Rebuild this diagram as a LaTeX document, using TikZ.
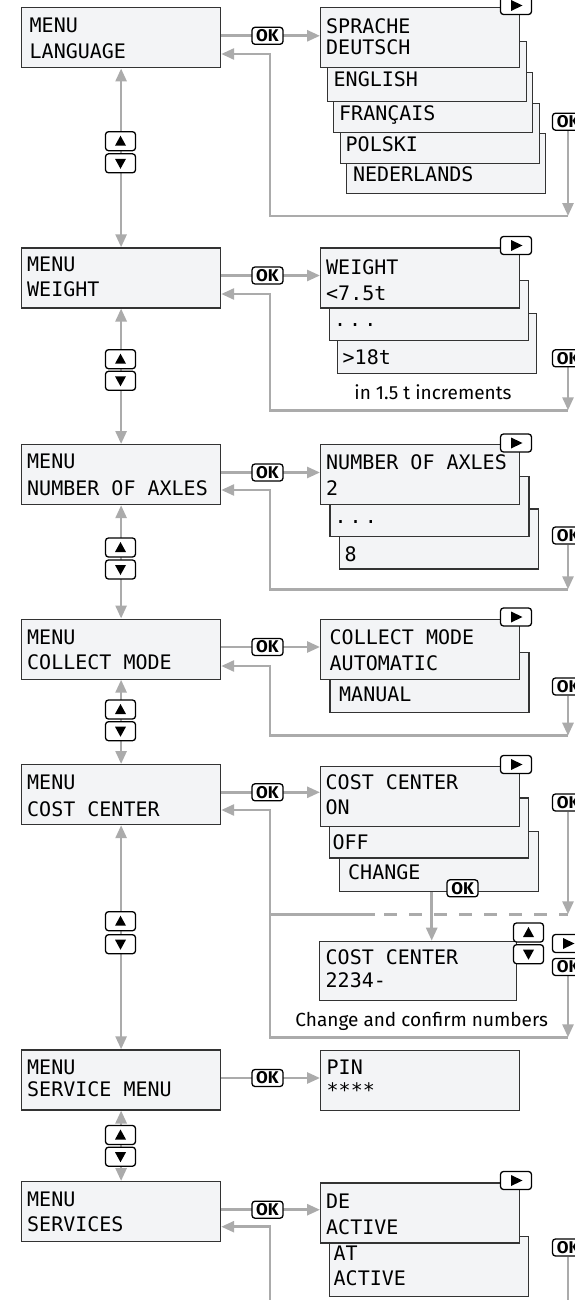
\documentclass[tikz,border=0pt]{standalone}
\usepackage{fontspec}
\usetikzlibrary{arrows.meta}
\newfontfamily\lcdfont{DejaVu Sans Mono}
\newfontfamily\notefont{Fira Sans}
\definecolor{lcdfill}{HTML}{F3F4F6}
\definecolor{flowgray}{HTML}{ABABAB}
\definecolor{edgegray}{HTML}{333333}
\pgfdeclarelayer{bg}
\pgfsetlayers{bg,main}
\newcommand\upmark[1]{\fill ([shift={(-5.5,4.5)}]#1.center) -- ++(11,0) -- ++(-5.5,-10) -- cycle;}
\newcommand\downmark[1]{\fill ([shift={(-5.5,-4.5)}]#1.center) -- ++(11,0) -- ++(-5.5,10) -- cycle;}
\newcommand\playmark[1]{\fill ([shift={(-5,-5.5)}]#1.center) -- ++(11.5,5.5) -- ++(-11.5,5.5) -- cycle;}
\tikzset{
  lcd/.style={draw=edgegray, fill=lcdfill, line width=1.2pt, minimum width=199pt, minimum height=60pt, inner sep=0pt, anchor=north west},
  lcdtext/.style={font=\lcdfont\fontsize{20}{20}\selectfont, anchor=west, inner sep=0pt, text height=14.6pt, text depth=0pt},
  flow/.style={draw=flowgray, line width=2.7pt},
  arrowend/.style={-{Triangle[length=13pt,width=11pt]}},
  botharrows/.style={{Triangle[length=13pt,width=11pt]}-{Triangle[length=13pt,width=11pt]}},
  okbadge/.style={draw=black, fill=white, line width=1.3pt, rounded corners=3pt, minimum width=31pt, minimum height=17pt, inner sep=0pt, font=\notefont\bfseries\fontsize{17}{17}\selectfont},
  keybadge/.style={draw=black, fill=white, line width=1.3pt, rounded corners=3pt, minimum width=30pt, minimum height=19pt, inner sep=0pt},
  playbadge/.style={keybadge, minimum height=18pt, minimum width=31pt},
  notetext/.style={font=\notefont\fontsize{19}{19}\selectfont, inner sep=0pt}
}
\begin{document}
\begin{tikzpicture}[x=1pt,y=-1pt]
\useasboundingbox (0,0) rectangle (574,1300);

% ---------- Section 1: LANGUAGE ----------
\node[lcd] (l5) at (346,133.3) {};
\node[lcdtext] (l5t) at (352.8,174.2) {NEDERLANDS};
\node[lcd] (l4) at (339.7,102.7) {};
\node[lcdtext] (l4t) at (345.5,144) {POLSKI};
\node[lcd] (l3) at (333,71.7) {};
\node[lcdtext] (l3t) at (339,113.3) {FRANÇAIS};
\node[lcd] (l2) at (327,40.7) {};
\node[lcdtext] (l2t) at (333.5,79.7) {ENGLISH};
\node[lcd] (s1) at (320,7.3) {};
\node[lcdtext] (s1a) at (326,25.8) {SPRACHE};
\node[lcdtext] (s1b) at (326,47.5) {DEUTSCH};
\node[lcd] (m1) at (21,7.3) {};
\node[lcdtext] (m1a) at (29.5,25) {MENU};
\node[lcdtext] (m1b) at (29.5,51.7) {LANGUAGE};

% ---------- Section 2: WEIGHT ----------
\node[lcd] (w3) at (336.8,312.7) {};
\node[lcdtext] (w3t) at (342.5,357) {>18t};
\node[lcd] (w2) at (328.7,280) {};
\node[lcdtext] (w2t) at (334,319.4) {.\kern3pt.\kern3pt.};
\node[lcd] (s2) at (320,247.3) {};
\node[lcdtext] (s2a) at (326,267) {WEIGHT};
\node[lcdtext] (s2b) at (326,293) {<7.5t};
\node[lcd] (m2) at (21,247.3) {};
\node[lcdtext] (m2a) at (27,264.5) {MENU};
\node[lcdtext] (m2b) at (27,288.8) {WEIGHT};
\node[notetext] (n2) at (433,392.7) {in 1.5 t increments};

% ---------- Section 3: AXLES ----------
\node[lcd] (a3) at (338.6,508.3) {};
\node[lcdtext] (a3t) at (344.5,554) {8};
\node[lcd] (a2) at (329.4,476) {};
\node[lcdtext] (a2t) at (334.5,516) {.\kern3pt.\kern3pt.};
\node[lcd] (s3) at (320,444) {};
\node[lcdtext] (s3a) at (326,462.5) {NUMBER OF AXLES};
\node[lcdtext] (s3b) at (326,488.3) {2};
\node[lcd] (m3) at (21,444) {};
\node[lcdtext] (m3a) at (27,461) {MENU};
\node[lcdtext] (m3b) at (27,488.3) {NUMBER OF AXLES};

% ---------- Section 4: COLLECT MODE ----------
\node[lcd] (c2) at (329.4,651.7) {};
\node[lcdtext] (c2t) at (339,694.2) {MANUAL};
\node[lcd] (s4) at (320,618.5) {};
\node[lcdtext] (s4a) at (329.5,637) {COLLECT MODE};
\node[lcdtext] (s4b) at (329.5,663.3) {AUTOMATIC};
\node[lcd] (m4) at (21,618.5) {};
\node[lcdtext] (m4a) at (27,636.7) {MENU};
\node[lcdtext] (m4b) at (27,662.5) {COLLECT MODE};

% ---------- Section 5: COST CENTER ----------
\node[lcd] (k3) at (338.6,830.7) {};
\node[lcdtext] (k3t) at (348,872.5) {CHANGE};
\node[lcd] (k2) at (329,797.3) {};
\node[lcdtext] (k2t) at (332.3,841.7) {OFF};
\node[lcd] (s5) at (320,766) {};
\node[lcdtext] (s5a) at (325.5,782.5) {COST CENTER};
\node[lcdtext] (s5b) at (325.5,807.5) {ON};
\node[lcd] (m5) at (21,764) {};
\node[lcdtext] (m5a) at (27,782) {MENU};
\node[lcdtext] (m5b) at (27,809) {COST CENTER};
\node[lcd, minimum width=197pt, minimum height=59.3pt] (cc) at (318.5,940.7) {};
\node[lcdtext] (cca) at (325.5,956.7) {COST CENTER};
\node[lcdtext] (ccb) at (325.5,980) {2234-};
\node[notetext] (n5) at (421.7,1021) {Change and confirm numbers};

% ---------- Section 6: SERVICE MENU ----------
\node[lcd] (m6) at (21,1049.3) {};
\node[lcdtext] (m6a) at (27,1067.5) {MENU};
\node[lcdtext] (m6b) at (27,1089) {SERVICE MENU};
\node[lcd] (pin) at (320,1050) {};
\node[lcdtext] (pina) at (326.5,1067.5) {PIN};
\node[lcdtext] (pinb) at (326.5,1090) {****};

% ---------- Section 7: SERVICES ----------
\node[lcd] (t2) at (329,1236) {};
\node[lcdtext] (t2a) at (333.5,1253.3) {AT};
\node[lcdtext] (t2b) at (333.5,1278.3) {ACTIVE};
\node[lcd] (s7) at (320,1182.3) {};
\node[lcdtext] (s7a) at (326,1200.8) {DE};
\node[lcdtext] (s7b) at (326,1226.7) {ACTIVE};
\node[lcd] (m7) at (21,1181) {};
\node[lcdtext] (m7a) at (27,1199) {MENU};
\node[lcdtext] (m7b) at (27,1224) {SERVICES};

% ---------- OK badges on the forward arrows ----------
\node[okbadge] (ok1) at (267.5,35.8) {OK};
\node[okbadge] (ok2) at (267.5,275.5) {OK};
\node[okbadge] (ok3) at (267.5,472.5) {OK};
\node[okbadge] (ok4) at (267.5,647) {OK};
\node[okbadge] (ok5) at (267.5,792.3) {OK};
\node[okbadge] (ok6) at (267.5,1078) {OK};
\node[okbadge] (ok7) at (267.5,1209.7) {OK};

% ---------- OK badges on the right ----------
\node[okbadge] (rk1) at (568,121.7) {OK};
\node[okbadge] (rk2) at (568,358.3) {OK};
\node[okbadge] (rk3) at (568,535.5) {OK};
\node[okbadge] (rk4) at (568,686.5) {OK};
\node[okbadge] (rk5) at (568,802.5) {OK};
\node[okbadge] (rk5b) at (568,967) {OK};
\node[okbadge] (rk7) at (568,1247.5) {OK};
\node[okbadge] (kok) at (462.5,888.3) {OK};

% ---------- play badges ----------
\node[playbadge] (p1) at (516,5.5) {};
\node[playbadge] (p2) at (516,245.5) {};
\node[playbadge] (p3) at (516,443) {};
\node[playbadge] (p4) at (516,617) {};
\node[playbadge] (p5) at (516,764.5) {};
\node[playbadge] (p7) at (516,1180.5) {};
\node[playbadge] (pcc) at (568,943.5) {};
\playmark{p1}\playmark{p2}\playmark{p3}\playmark{p4}\playmark{p5}\playmark{p7}\playmark{pcc}

% ---------- up/down badges ----------
\node[keybadge] (u1) at (120.5,141.2) {};
\node[keybadge] (d1) at (120.5,163.3) {};
\node[keybadge] (u2) at (120.5,359.2) {};
\node[keybadge] (d2) at (120.5,380.8) {};
\node[keybadge] (u3) at (120.5,547.5) {};
\node[keybadge] (d3) at (120.5,569.5) {};
\node[keybadge] (u4) at (120.5,709.5) {};
\node[keybadge] (d4) at (120.5,731.2) {};
\node[keybadge] (u5) at (120.5,921.2) {};
\node[keybadge] (d5) at (120.5,944.2) {};
\node[keybadge] (u6) at (120.5,1135) {};
\node[keybadge] (d6) at (120.5,1156.7) {};
\node[keybadge] (ucc) at (528.5,932.5) {};
\node[keybadge] (dcc) at (528.5,954.2) {};
\upmark{u1}\downmark{d1}\upmark{u2}\downmark{d2}\upmark{u3}\downmark{d3}
\upmark{u4}\downmark{d4}\upmark{u5}\downmark{d5}\upmark{u6}\downmark{d6}
\upmark{ucc}\downmark{dcc}

% ---------- helper coordinates ----------
\coordinate (rc1) at (568,216);
\coordinate (rc2) at (568,410.3);
\coordinate (rc3) at (568,589.3);
\coordinate (rc4) at (568,735.7);
\coordinate (rc5) at (568,1037.3);
\coordinate (rv1) at (270,54);
\coordinate (rv2) at (270,294);
\coordinate (rv3) at (270,490);
\coordinate (rv4) at (270,666);
\coordinate (rv5) at (270,810);
\coordinate (rv7) at (270,1226.7);
\coordinate (rb7) at (270,1310);
\coordinate (rr7) at (568,1310);
\coordinate (dr) at (568,914.3);
\coordinate (dl) at (270,914.3);
\coordinate (ds) at (375,914.3);
\coordinate (dd) at (384,914.3);
\coordinate (kx) at (431.7,900);

\begin{pgfonlayer}{bg}
% vertical menu navigation
\draw[flow,botharrows] (m1.south) -- (m2.north);
\draw[flow,botharrows] (m2.south) -- (m3.north);
\draw[flow,botharrows] (m3.south) -- (m4.north);
\draw[flow,botharrows] (m4.south) -- (m5.north);
\draw[flow,botharrows] (m5.south) -- (m6.north);
\draw[flow,botharrows] (m6.south) -- (m7.north);
% OK forward arrows
\draw[flow,arrowend] (m1.east |- ok1) -- (s1.west |- ok1);
\draw[flow,arrowend] (m2.east |- ok2) -- (s2.west |- ok2);
\draw[flow,arrowend] (m3.east |- ok3) -- (s3.west |- ok3);
\draw[flow,arrowend] (m4.east |- ok4) -- (s4.west |- ok4);
\draw[flow,arrowend] (m5.east |- ok5) -- (s5.west |- ok5);
\draw[flow,arrowend] (m6.east |- ok6) -- (pin.west |- ok6);
\draw[flow,arrowend] (m7.east |- ok7) -- (s7.west |- ok7);
% return loops
\draw[flow,arrowend] (rk1) -- (rc1);
\draw[flow,arrowend] (rc1) -- (rc1 -| rv1) -- (rv1) -- (rv1 -| m1.east);
\draw[flow,arrowend] (rk2) -- (rc2);
\draw[flow,arrowend] (rc2) -- (rc2 -| rv2) -- (rv2) -- (rv2 -| m2.east);
\draw[flow,arrowend] (rk3) -- (rc3);
\draw[flow,arrowend] (rc3) -- (rc3 -| rv3) -- (rv3) -- (rv3 -| m3.east);
\draw[flow,arrowend] (rk4) -- (rc4);
\draw[flow,arrowend] (rc4) -- (rc4 -| rv4) -- (rv4) -- (rv4 -| m4.east);
\draw[flow,arrowend] (rk5) -- (dr);
\draw[flow] (dl) -- (ds);
\draw[flow,dash pattern=on 13pt off 12pt] (dd) -- (dr);
\draw[flow,arrowend] (k3.south -| kx) -- (cc.north -| kx);
\draw[flow,arrowend] (rk5b) -- (rc5);
\draw[flow,arrowend] (rc5) -- (rc5 -| rv5) -- (rv5) -- (rv5 -| m5.east);
\draw[flow] (rk7) -- (rr7);
\draw[flow,arrowend] (rb7) -- (rv7) -- (rv7 -| m7.east);
\end{pgfonlayer}
\end{tikzpicture}
\end{document}
